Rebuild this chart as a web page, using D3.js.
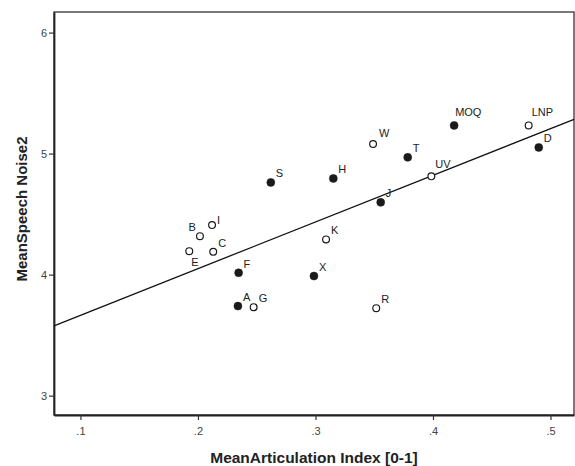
<!DOCTYPE html>
<html>
<head>
<meta charset="utf-8">
<script src="https://cdn.jsdelivr.net/npm/d3@7/dist/d3.min.js"></script>
<style>
  html, body { margin: 0; padding: 0; background: #fff; }
  svg { display: block; }
  text { font-family: "Liberation Sans", Arial, sans-serif; }
</style>
</head>
<body>
<svg id="chart" width="575" height="466"></svg>
<script>
// ---- data ----
const labels = ["S","B","I","E","C","F","A","G","K","X","R","H","W","T","J","UV","MOQ","LNP","D"];
const articulation = [0.262,0.2017,0.212,0.1926,0.213,0.2346,0.234,0.2474,0.309,0.2987,0.3517,0.3152,0.349,0.3785,0.3555,0.3986,0.418,0.4814,0.490];
const speechNoise  = [4.762,4.318,4.409,4.194,4.188,4.015,3.740,3.731,4.291,3.988,3.723,4.795,5.079,4.969,4.597,4.812,5.233,5.233,5.051];
const filled       = [true,false,false,false,false,true,true,false,false,true,false,true,false,true,true,false,true,false,true];
const fitX = [0.0775, 0.52];
const fitY = [3.577, 5.283];
const xTicks = [0.1, 0.2, 0.3, 0.4, 0.5];
const xTickLabels = [".1", ".2", ".3", ".4", ".5"];
const yTicks = [3, 4, 5, 6];
const yTickLabels = ["3", "4", "5", "6"];
const xTitle = "MeanArticulation Index [0-1]";
const yTitle = "MeanSpeech Noise2";

// ---- layout (kept separate from data) ----
const plot = { left: 54, right: 574, top: 12, bottom: 415 };
const labelPlacement = {
  default: { dx: 5, dy: -5, anchor: "start" },
  B:   { dx: -4, dy: -5, anchor: "end" },
  E:   { dx: 2, dy: 15, anchor: "start" },
  W:   { dx: 6, dy: -7, anchor: "start" },
  UV:  { dx: 4, dy: -8, anchor: "start" },
  MOQ: { dx: 1, dy: -9, anchor: "start" },
  LNP: { dx: 3, dy: -9, anchor: "start" },
  I:   { dx: 5, dy: -1, anchor: "start" }
};

const svg = d3.select("#chart");
const x = d3.scaleLinear().domain([0.0775, 0.52]).range([plot.left, plot.right]);
const y = d3.scaleLinear().domain([2.84, 6.17]).range([plot.bottom, plot.top]);

// frame
svg.append("rect")
  .attr("x", plot.left).attr("y", plot.top)
  .attr("width", plot.right - plot.left).attr("height", plot.bottom - plot.top)
  .attr("fill", "#fff").attr("stroke", "#333").attr("stroke-width", 1.3);

// axes
const xAxis = d3.axisBottom(x).tickValues(xTicks)
  .tickFormat((d, i) => xTickLabels[i]).tickSize(5).tickSizeOuter(0);
const yAxis = d3.axisLeft(y).tickValues(yTicks)
  .tickFormat((d, i) => yTickLabels[i]).tickSize(5).tickSizeOuter(0);

const gx = svg.append("g").attr("transform", `translate(0,${plot.bottom})`).call(xAxis);
const gy = svg.append("g").attr("transform", `translate(${plot.left},0)`).call(yAxis);
[gx, gy].forEach(g => {
  g.select(".domain").attr("stroke", "#222").attr("stroke-width", 1.8);
  g.selectAll(".tick line").attr("stroke", "#333").attr("stroke-width", 1.2);
  g.selectAll(".tick text").attr("fill", "#444").attr("font-size", 11)
    .attr("font-family", "Liberation Sans, Arial, sans-serif");
});
gx.selectAll(".tick text").attr("dy", "1.05em");
gy.selectAll(".tick text").attr("dx", "1px");

// regression line
svg.append("line")
  .attr("x1", x(fitX[0])).attr("y1", y(fitY[0]))
  .attr("x2", x(fitX[1])).attr("y2", y(fitY[1]))
  .attr("stroke", "#111").attr("stroke-width", 1.3);

// points
const pts = labels.map((l, i) => ({ l, x: articulation[i], y: speechNoise[i], f: filled[i] }));
svg.append("g").selectAll("circle").data(pts).join("circle")
  .attr("cx", d => x(d.x)).attr("cy", d => y(d.y))
  .attr("r", d => d.f ? 4 : 3.4)
  .attr("fill", d => d.f ? "#1a1a1a" : "#fff")
  .attr("stroke", "#1a1a1a").attr("stroke-width", d => d.f ? 0.5 : 1.2);

svg.append("g").selectAll("text").data(pts).join("text")
  .attr("x", d => x(d.x) + (labelPlacement[d.l] || labelPlacement.default).dx)
  .attr("y", d => y(d.y) + (labelPlacement[d.l] || labelPlacement.default).dy)
  .attr("text-anchor", d => (labelPlacement[d.l] || labelPlacement.default).anchor)
  .attr("font-size", 11).attr("fill", "#222")
  .text(d => d.l);

// axis titles
svg.append("text")
  .attr("x", (plot.left + plot.right) / 2).attr("y", 463)
  .attr("text-anchor", "middle").attr("font-weight", "bold").attr("font-size", 15.5)
  .attr("fill", "#222").text(xTitle);
svg.append("text")
  .attr("transform", `translate(27,209) rotate(-90)`)
  .attr("text-anchor", "middle").attr("font-weight", "bold").attr("font-size", 15)
  .attr("fill", "#222").text(yTitle);
</script>
</body>
</html>
